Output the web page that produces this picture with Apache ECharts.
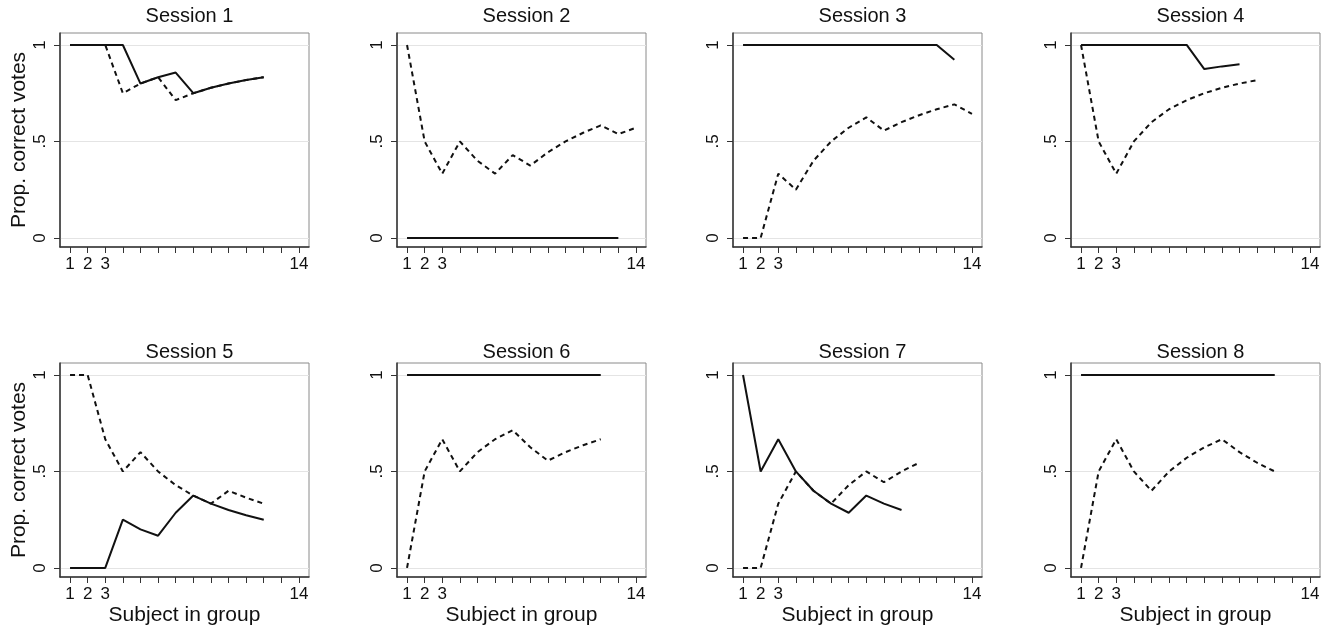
<!DOCTYPE html>
<html>
<head>
<meta charset="utf-8">
<script src="https://cdn.jsdelivr.net/npm/echarts@6/dist/echarts.min.js"></script>
<style>
  html, body { margin: 0; padding: 0; background: #fff; }
  #chart { width: 1331px; height: 629px; }
</style>
</head>
<body>
<div id="chart"></div>
<script>
// x positions (subject in group) and tick labels
const subjects = [1, 2, 3, 4, 5, 6, 7, 8, 9, 10, 11, 12, 13, 14]
const xLabelValues = [1, 2, 3, 14]
const yTickValues = [0, 0.5, 1]
const yTickLabels = { 0: '0', 0.5: '.5', 1: '1' }
const sessionTitles = ['Session 1', 'Session 2', 'Session 3', 'Session 4', 'Session 5', 'Session 6', 'Session 7', 'Session 8']

// values, one solid and one dashed line per session
const solid1 = [1, 1, 1, 1, 0.8, 0.833, 0.857, 0.75, 0.778, 0.8, 0.818, 0.833]
const dashed1 = [1, 1, 1, 0.75, 0.8, 0.833, 0.714, 0.75, 0.778, 0.8, 0.818, 0.833]
const solid2 = [0, 0, 0, 0, 0, 0, 0, 0, 0, 0, 0, 0, 0]
const dashed2 = [1, 0.5, 0.333, 0.5, 0.4, 0.333, 0.429, 0.375, 0.444, 0.5, 0.545, 0.583, 0.538, 0.571]
const solid3 = [1, 1, 1, 1, 1, 1, 1, 1, 1, 1, 1, 1, 0.923]
const dashed3 = [0, 0, 0.333, 0.25, 0.4, 0.5, 0.571, 0.625, 0.556, 0.6, 0.636, 0.667, 0.692, 0.643]
const solid4 = [1, 1, 1, 1, 1, 1, 1, 0.875, 0.889, 0.9]
const dashed4 = [1, 0.5, 0.333, 0.5, 0.6, 0.667, 0.714, 0.75, 0.778, 0.8, 0.818]
const solid5 = [0, 0, 0, 0.25, 0.2, 0.167, 0.286, 0.375, 0.333, 0.3, 0.273, 0.25]
const dashed5 = [1, 1, 0.667, 0.5, 0.6, 0.5, 0.429, 0.375, 0.333, 0.4, 0.364, 0.333]
const solid6 = [1, 1, 1, 1, 1, 1, 1, 1, 1, 1, 1, 1]
const dashed6 = [0, 0.5, 0.667, 0.5, 0.6, 0.667, 0.714, 0.625, 0.556, 0.6, 0.636, 0.667]
const solid7 = [1, 0.5, 0.667, 0.5, 0.4, 0.333, 0.286, 0.375, 0.333, 0.3]
const dashed7 = [0, 0, 0.333, 0.5, 0.4, 0.333, 0.429, 0.5, 0.444, 0.5, 0.545]
const solid8 = [1, 1, 1, 1, 1, 1, 1, 1, 1, 1, 1, 1]
const dashed8 = [0, 0.5, 0.667, 0.5, 0.4, 0.5, 0.571, 0.625, 0.667, 0.6, 0.545, 0.5]

const solidLines = [solid1, solid2, solid3, solid4, solid5, solid6, solid7, solid8]
const dashedLines = [dashed1, dashed2, dashed3, dashed4, dashed5, dashed6, dashed7, dashed8]

const FONT = '"Liberation Sans", Arial, Helvetica, sans-serif'
const INK = '#111'
const colLeft = [60, 397, 733, 1071]
const rowTop = [33, 363]
const titleTop = [1, 337]
const boxW = 249
const boxH = 214

const toPoints = vals => vals.map((v, i) => [subjects[i], v])

const grids = []
const xAxes = []
const yAxes = []
const titles = []
const series = []

sessionTitles.forEach((name, i) => {
  const row = Math.floor(i / 4)
  const col = i % 4
  grids.push({
    left: colLeft[col],
    top: rowTop[row],
    width: boxW,
    height: boxH,
    show: true,
    borderColor: '#8a8a8a',
    borderWidth: 1
  })
  titles.push({
    text: name,
    left: colLeft[col] + boxW / 2,
    top: titleTop[row],
    textAlign: 'center',
    textStyle: { fontFamily: FONT, fontSize: 20, fontWeight: 'normal', color: INK }
  })
  xAxes.push({
    type: 'value',
    gridIndex: i,
    min: 0.43,
    max: 14.57,
    name: row === 1 ? 'Subject in group' : '',
    nameLocation: 'middle',
    nameGap: 28,
    nameTextStyle: { fontFamily: FONT, fontSize: 21, color: INK },
    axisLine: { show: true, onZero: false, lineStyle: { color: '#333', width: 1.5 } },
    axisTick: { show: true, length: 6, customValues: subjects, lineStyle: { color: '#333' } },
    axisLabel: {
      customValues: xLabelValues,
      margin: 9,
      fontFamily: FONT,
      fontSize: 17,
      color: INK
    },
    splitLine: { show: false }
  })
  yAxes.push({
    type: 'value',
    gridIndex: i,
    min: -0.047,
    max: 1.062,
    name: col === 0 ? 'Prop. correct votes' : '',
    nameLocation: 'middle',
    nameGap: 30,
    nameTextStyle: { fontFamily: FONT, fontSize: 21, color: INK },
    axisLine: { show: true, onZero: false, lineStyle: { color: '#333', width: 1.5 } },
    axisTick: { show: true, length: 6, customValues: yTickValues, lineStyle: { color: '#333' } },
    axisLabel: {
      customValues: yTickValues,
      rotate: 90,
      margin: 11,
      fontFamily: FONT,
      fontSize: 17,
      color: INK,
      formatter: v => yTickLabels[v]
    },
    splitLine: { show: true, lineStyle: { color: '#e4e4e4', width: 1 } }
  })
  // dashed first so the solid line sits on top where they overlap
  series.push({
    type: 'line',
    xAxisIndex: i,
    yAxisIndex: i,
    data: toPoints(dashedLines[i]),
    showSymbol: false,
    symbol: 'none',
    lineStyle: { color: INK, width: 2, type: [5, 4] }
  })
  series.push({
    type: 'line',
    xAxisIndex: i,
    yAxisIndex: i,
    data: toPoints(solidLines[i]),
    showSymbol: false,
    symbol: 'none',
    lineStyle: { color: INK, width: 2, type: 'solid' }
  })
})

const chart = echarts.init(document.getElementById('chart'))
chart.setOption({
  animation: false,
  backgroundColor: '#fff',
  title: titles,
  grid: grids,
  xAxis: xAxes,
  yAxis: yAxes,
  series: series
})
</script>
</body>
</html>
